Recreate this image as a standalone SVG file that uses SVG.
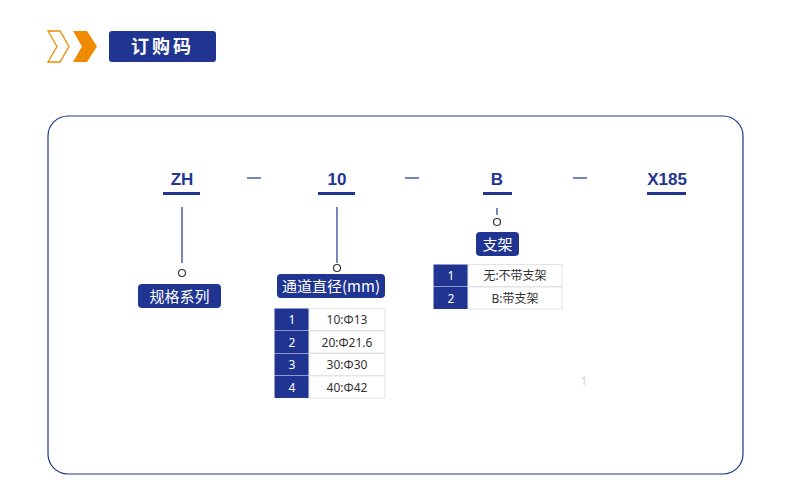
<svg xmlns="http://www.w3.org/2000/svg" width="790" height="492" viewBox="0 0 790 492">
<style>
.code{font-family:"Liberation Sans",Arial,sans-serif;font-weight:bold;font-size:17px;fill:#1f3591;text-anchor:middle}
.lbl{font-family:"Noto Sans CJK SC","Noto Sans",sans-serif;font-size:15px;fill:#fff;text-anchor:middle}
.num{font-family:"Noto Sans","Noto Sans CJK SC",sans-serif;font-size:12px;fill:#fff;text-anchor:middle}
.cell{font-family:"Noto Sans","Noto Sans CJK SC",sans-serif;font-size:12px;fill:#333;text-anchor:middle}
.nb{fill:#1f3591}
.wc{fill:#fff;stroke:#e3e3e8;stroke-width:1}
.ln{stroke:#1f3591;stroke-width:1.2;fill:none}
.ul{fill:#1f3591}
.dot{fill:#fff;stroke:#333;stroke-width:1.2}
.box{fill:#1f3591}
</style>
<rect width="790" height="492" fill="#fff"/>
<g id="header">
<path d="M48,31 H60 L69,46.5 L60,62 H48 L57,46.5 Z" fill="none" stroke="#f08a00" stroke-width="1.3"/>
<path d="M73,31 H87 L97,46.5 L87,62 H73 L82,46.5 Z" fill="#f08a00"/>
<rect x="109" y="31" width="107" height="31" rx="3" fill="#1f3591"/>
<text x="162.5" y="53" font-family="Noto Sans CJK SC,sans-serif" font-weight="bold" font-size="18" fill="#fff" text-anchor="middle" letter-spacing="3">订购码</text>
</g>
<rect id="frame" x="48" y="116" width="695" height="358" rx="20" fill="none" stroke="#1f3591" stroke-width="1.2"/>
<g id="codes">
<text class="code" x="182" y="185">ZH</text><rect class="ul" x="163" y="192" width="37" height="3"/>
<text class="code" x="337" y="185">10</text><rect class="ul" x="318" y="192" width="37" height="3"/>
<text class="code" x="497" y="185">B</text><rect class="ul" x="483" y="192" width="29" height="3"/>
<text class="code" x="667" y="185">X185</text><rect class="ul" x="647" y="192" width="39" height="3"/>
<line class="ln" x1="247" y1="178" x2="261" y2="178"/>
<line class="ln" x1="405" y1="178" x2="419" y2="178"/>
<line class="ln" x1="573" y1="178" x2="587" y2="178"/>
</g>
<g id="connectors">
<line class="ln" x1="182" y1="207" x2="182" y2="263"/>
<line class="ln" x1="337" y1="207" x2="337" y2="263"/>
<line class="ln" x1="497" y1="208" x2="497" y2="215"/>
</g>
<g id="node-zh">
<circle class="dot" cx="182" cy="273" r="3.5"/>
<rect class="box" x="138" y="284" width="83" height="24" rx="4"/>
<text class="lbl" x="179.5" y="302">规格系列</text>
</g>
<g id="node-10">
<circle class="dot" cx="337" cy="268" r="3.5"/>
<rect class="box" x="277" y="274" width="108" height="24" rx="4"/>
<text class="lbl" x="331" y="292">通道直径(mm)</text>
<rect class="nb" x="274.5" y="308.5" width="34.5" height="22"/><rect class="wc" x="309" y="308.5" width="76" height="22"/>
<rect class="nb" x="274.5" y="331" width="34.5" height="22"/><rect class="wc" x="309" y="331" width="76" height="22"/>
<rect class="nb" x="274.5" y="353.5" width="34.5" height="22"/><rect class="wc" x="309" y="353.5" width="76" height="22"/>
<rect class="nb" x="274.5" y="376" width="34.5" height="22"/><rect class="wc" x="309" y="376" width="76" height="22"/>
<text class="num" x="292" y="324">1</text><text class="cell" x="347" y="324">10:Φ13</text>
<text class="num" x="292" y="346.5">2</text><text class="cell" x="347" y="346.5">20:Φ21.6</text>
<text class="num" x="292" y="369">3</text><text class="cell" x="347" y="369">30:Φ30</text>
<text class="num" x="292" y="391.5">4</text><text class="cell" x="347" y="391.5">40:Φ42</text>
</g>
<g id="node-b">
<circle class="dot" cx="497" cy="222" r="3.5"/>
<rect class="box" x="476" y="232" width="43" height="24" rx="4"/>
<text class="lbl" x="497.5" y="250">支架</text>
<rect class="nb" x="433.5" y="264.5" width="34.5" height="22"/><rect class="wc" x="468" y="264.5" width="94" height="22"/>
<rect class="nb" x="433.5" y="287" width="34.5" height="22"/><rect class="wc" x="468" y="287" width="94" height="22"/>
<text class="num" x="451" y="280">1</text><text class="cell" x="515" y="280">无:不带支架</text>
<text class="num" x="451" y="302.5">2</text><text class="cell" x="515" y="302.5">B:带支架</text>
</g>
<text x="584" y="385" font-family="Noto Sans,sans-serif" font-size="11" fill="#c8ccd8" text-anchor="middle">1</text>
</svg>
